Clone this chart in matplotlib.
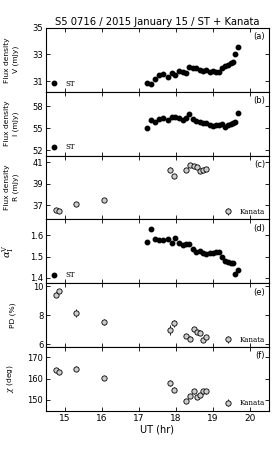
import matplotlib
matplotlib.use("Agg")
import matplotlib.pyplot as plt

# ST photometry (UT hr) and values
st_ut = [17.22, 17.33, 17.45, 17.55, 17.66, 17.78, 17.89, 17.99, 18.09, 18.19,
         18.27, 18.36, 18.46, 18.55, 18.64, 18.73, 18.82, 18.91, 19.00, 19.09,
         19.17, 19.25, 19.32, 19.40, 19.48, 19.53, 19.60, 19.68]
st_v = [30.87, 30.75, 31.17, 31.47, 31.50, 31.28, 31.62, 31.47, 31.75, 31.65,
        31.60, 32.05, 31.95, 32.00, 31.85, 31.77, 31.82, 31.67, 31.75, 31.65,
        31.67, 32.00, 32.10, 32.22, 32.33, 32.45, 33.05, 33.57]
st_i = [55.10, 56.15, 55.88, 56.28, 56.38, 56.15, 56.50, 56.60, 56.38, 56.20,
        56.38, 56.92, 56.28, 56.06, 55.93, 55.80, 55.70, 55.47, 55.39, 55.43,
        55.43, 55.60, 55.25, 55.43, 55.60, 55.70, 55.83, 57.05]
st_alpha = [1.570, 1.628, 1.584, 1.577, 1.578, 1.584, 1.562, 1.589, 1.562, 1.556,
            1.559, 1.559, 1.538, 1.522, 1.526, 1.519, 1.511, 1.519, 1.516, 1.522,
            1.522, 1.497, 1.477, 1.475, 1.470, 1.468, 1.420, 1.439]

# Kanata photo-polarimetry
kn_ut = [14.76, 14.86, 15.32, 16.05, 17.85, 17.95, 18.27, 18.39, 18.48, 18.56,
         18.65, 18.73, 18.82]
kn_r = [36.60, 36.45, 37.10, 37.50, 40.30, 39.70, 40.30, 40.75, 40.60, 40.50,
        40.20, 40.30, 40.40]
kn_r_err = [0.08, 0.08, 0.12, 0.12, 0.22, 0.12, 0.12, 0.10, 0.10, 0.10, 0.10, 0.10, 0.10]
kn_pd = [9.41, 9.66, 8.15, 7.52, 6.98, 7.43, 6.57, 6.38, 7.04, 6.84, 6.80, 6.30, 6.47]
kn_pd_err = [0.15, 0.15, 0.28, 0.22, 0.35, 0.22, 0.15, 0.15, 0.15, 0.15, 0.15, 0.15, 0.15]
kn_chi = [163.9, 163.2, 164.7, 160.2, 157.9, 154.8, 149.4, 151.8, 153.9, 151.4,
          152.2, 153.9, 153.9]
kn_chi_err = [1.0, 1.0, 1.3, 1.0, 1.6, 1.0, 1.0, 1.0, 1.0, 1.0, 1.0, 1.0, 1.0]

plt.rcParams["font.size"] = 6
plt.rcParams["xtick.direction"] = "in"
plt.rcParams["ytick.direction"] = "in"
plt.rcParams["xtick.top"] = True
plt.rcParams["ytick.right"] = True
plt.rcParams["mathtext.fontset"] = "dejavuserif"

fig, axes = plt.subplots(6, 1, sharex=True, figsize=(2.74, 4.57), dpi=100)
fig.subplots_adjust(left=0.168, right=0.98, top=0.939, bottom=0.101, hspace=0)

serif = {"family": "DejaVu Serif", "size": 5}
LABEL_FS = 5.4


def st_panel(ax, y, ylim, ticks, label, tag):
    ax.plot(st_ut, y, "o", color="k", ms=3.2, label="ST")
    ax.set_ylim(*ylim)
    ax.set_yticks(ticks)
    ax.set_ylabel(label, fontsize=LABEL_FS, linespacing=1.5)
    ax.legend(loc="lower left", frameon=False, prop=serif, numpoints=1,
              handlelength=1.0, handletextpad=1.2, borderaxespad=0.2)
    ax.text(0.985, 0.93, tag, transform=ax.transAxes, ha="right", va="top")


def kn_panel(ax, y, err, ylim, ticks, label, tag):
    ax.errorbar(kn_ut, y, yerr=err, fmt="o", mfc="0.8", mec="k", ecolor="k",
                ms=3.8, mew=0.6, elinewidth=0.6, capsize=0, label="Kanata")
    ax.set_ylim(*ylim)
    ax.set_yticks(ticks)
    ax.set_ylabel(label, fontsize=LABEL_FS, linespacing=1.5)
    ax.legend(loc="lower right", frameon=False, prop=serif, numpoints=1,
              handlelength=1.0, handletextpad=1.2, borderaxespad=0.1)
    ax.text(0.985, 0.93, tag, transform=ax.transAxes, ha="right", va="top")


st_panel(axes[0], st_v, (30.2, 35.0), [31, 33, 35], "Flux density\nV (mJy)", "(a)")
st_panel(axes[1], st_i, (51.3, 60.0), [52, 55, 58], "Flux density\nI (mJy)", "(b)")
kn_panel(axes[2], kn_r, kn_r_err, (35.7, 41.6), [37, 39, 41], "Flux density\nR (mJy)", "(c)")
st_panel(axes[3], st_alpha, (1.375, 1.675), [1.4, 1.5, 1.6], r"$\alpha_{\rm I}^{\rm V}$", "(d)")
kn_panel(axes[4], kn_pd, kn_pd_err, (5.8, 10.2), [6, 8, 10], "PD (%)", "(e)")
kn_panel(axes[5], kn_chi, kn_chi_err, (144.8, 174.8), [150, 160, 170], r"$\chi$ (deg)", "(f)")
axes[3].yaxis.label.set_fontsize(7)

for ax, xl in zip(axes, [-0.12, -0.12, -0.12, -0.135, -0.135, -0.133]):
    ax.yaxis.set_label_coords(xl, 0.5)
    ax.tick_params(length=3, width=0.6, pad=2)
    for s in ax.spines.values():
        s.set_linewidth(0.8)

axes[5].set_xlim(14.5, 20.5)
axes[5].set_xticks([15, 16, 17, 18, 19, 20])
axes[5].tick_params(axis="x", labelsize=6.5)
axes[5].set_xlabel("UT (hr)", fontsize=7, labelpad=1)
axes[0].set_title("S5 0716 / 2015 January 15 / ST + Kanata", fontsize=7.2, pad=2)

fig.savefig("out.png", dpi=100)
